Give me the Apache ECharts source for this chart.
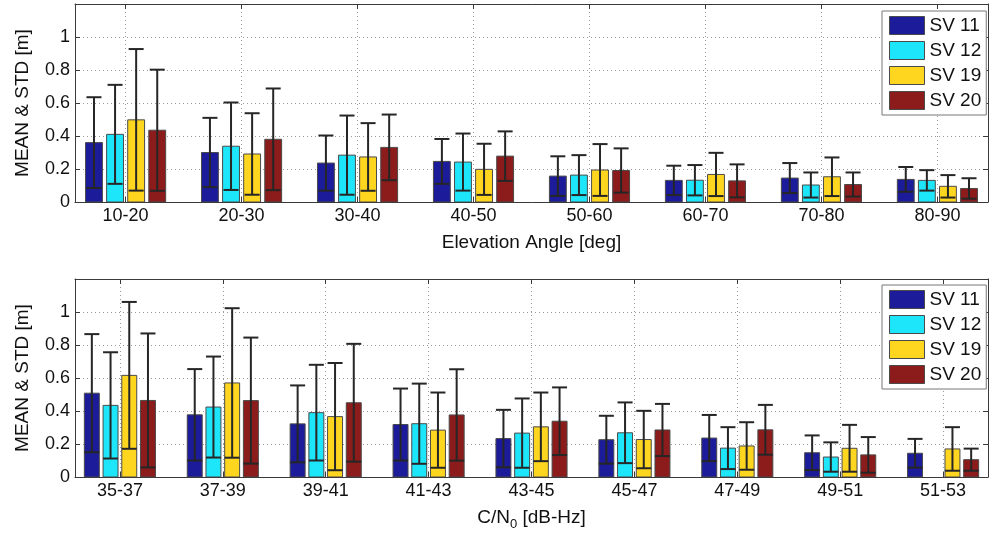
<!DOCTYPE html>
<html><head><meta charset="utf-8">
<script src="https://cdn.jsdelivr.net/npm/echarts@6/dist/echarts.min.js"></script>
<style>html,body{margin:0;padding:0;background:#fff}#c{width:993px;height:534px}</style>
</head><body><div id="c"></div>
<script>
// ---- data ----
const svNames = ['SV 11', 'SV 12', 'SV 19', 'SV 20'];
const svColors = ['#1c1c9a', '#1ee6fa', '#ffd61f', '#8c1b1b'];

const elevCats = ['10-20', '20-30', '30-40', '40-50', '50-60', '60-70', '70-80', '80-90'];
const elevMean11 = [0.360, 0.300, 0.236, 0.246, 0.157, 0.131, 0.145, 0.137];
const elevStd11  = [0.275, 0.210, 0.167, 0.136, 0.120, 0.089, 0.091, 0.075];
const elevMean12 = [0.410, 0.338, 0.284, 0.242, 0.163, 0.132, 0.103, 0.131];
const elevStd12  = [0.300, 0.265, 0.240, 0.173, 0.121, 0.092, 0.076, 0.062];
const elevMean19 = [0.498, 0.291, 0.273, 0.198, 0.194, 0.167, 0.153, 0.095];
const elevStd19  = [0.429, 0.247, 0.205, 0.155, 0.157, 0.131, 0.117, 0.068];
const elevMean20 = [0.435, 0.380, 0.331, 0.278, 0.191, 0.128, 0.106, 0.082];
const elevStd20  = [0.367, 0.308, 0.199, 0.150, 0.134, 0.100, 0.073, 0.062];

const cnoCats = ['35-37', '37-39', '39-41', '41-43', '43-45', '45-47', '47-49', '49-51', '51-53'];
const cnoMean11 = [0.508, 0.377, 0.322, 0.318, 0.233, 0.226, 0.236, 0.147, 0.144];
const cnoStd11  = [0.358, 0.277, 0.233, 0.218, 0.174, 0.145, 0.140, 0.105, 0.087];
const cnoMean12 = [0.434, 0.424, 0.390, 0.323, 0.266, 0.268, 0.175, 0.121, null];
const cnoStd12  = [0.322, 0.306, 0.290, 0.243, 0.210, 0.184, 0.127, 0.089, null];
const cnoMean19 = [0.616, 0.570, 0.366, 0.284, 0.304, 0.227, 0.188, 0.174, 0.170];
const cnoStd19  = [0.445, 0.453, 0.325, 0.228, 0.208, 0.174, 0.144, 0.142, 0.132];
const cnoMean20 = [0.464, 0.463, 0.450, 0.376, 0.338, 0.285, 0.286, 0.134, 0.105];
const cnoStd20  = [0.406, 0.382, 0.357, 0.277, 0.205, 0.158, 0.151, 0.108, 0.067];

// ---- chart ----
const FONT = 'Liberation Sans, Arial, sans-serif';
const GROUP = 4 / 5.5;           // MATLAB grouped-bar width
const STEP = GROUP / 4;
const BW = STEP * 0.8;
const CAP = 15;                  // px
const offsets = [0, 1, 2, 3].map(i => (i - 1.5) * STEP);

function render(offset, color) {
  return function (params, api) {
    const x = api.value(0), m = api.value(1), s = api.value(2);
    if (m == null || isNaN(m)) return;
    const xc = x + offset;
    const a = api.coord([xc - BW / 2, 0]);
    const b = api.coord([xc + BW / 2, m]);
    const t = api.coord([xc, m + s]);
    const lo = api.coord([xc, Math.max(m - s, 0)]);
    const cs = { stroke: '#262626', lineWidth: 2 };
    return {
      type: 'group', children: [
        { type: 'rect', shape: { x: a[0], y: b[1], width: b[0] - a[0], height: a[1] - b[1] },
          style: { fill: color, stroke: '#4a4a4a', lineWidth: 1 } },
        { type: 'line', shape: { x1: t[0], y1: t[1], x2: lo[0], y2: lo[1] }, style: cs },
        { type: 'line', shape: { x1: t[0] - CAP / 2, y1: t[1], x2: t[0] + CAP / 2, y2: t[1] }, style: cs },
        { type: 'line', shape: { x1: lo[0] - CAP / 2, y1: lo[1], x2: lo[0] + CAP / 2, y2: lo[1] }, style: cs }
      ]
    };
  };
}

function build(grid, means, stds) {
  return means.map((mArr, k) => {
    const data = [];
    mArr.forEach((m, i) => { if (m != null) data.push([i + 1, m, stds[k][i]]); });
    return {
      type: 'custom', name: svNames[k], xAxisIndex: grid * 2, yAxisIndex: grid * 2,
      renderItem: render(offsets[k], svColors[k]),
      itemStyle: { color: svColors[k], borderColor: '#4a4a4a', borderWidth: 1 },
      encode: { x: 0, y: 1 }, clip: true, data: data
    };
  });
}

const axisLineStyle = { color: '#3a3a3a', width: 1 };
const splitStyle = { show: true, lineStyle: { color: '#9a9a9a', type: [1, 3], width: 1 } };

function xAxes(gridIndex, cats, name, gap, nameRich) {
  const n = cats.length;
  const custom = cats.map((c, i) => i + 1);
  const base = {
    type: 'value', gridIndex: gridIndex, min: 1 - (GROUP / 2 + BW / 2), max: n + (GROUP / 2 + BW / 2),
    axisLine: { show: true, onZero: false, lineStyle: axisLineStyle },
    axisTick: { show: true, inside: true, length: 5, customValues: custom, lineStyle: axisLineStyle }
  };
  return [
    Object.assign({}, base, {
      position: 'bottom',
      name: name, nameLocation: 'middle', nameGap: gap,
      nameTextStyle: Object.assign({ fontFamily: FONT, fontSize: 19, color: '#111' }, nameRich || {}),
      axisLabel: { show: true, customValues: custom, fontFamily: FONT, fontSize: 18, color: '#111', margin: 5,
        formatter: v => cats[Math.round(v) - 1] || '' },
      splitLine: splitStyle
    }),
    Object.assign({}, base, { position: 'top', axisLabel: { show: false }, splitLine: { show: false } })
  ];
}

function yAxes(gridIndex) {
  const base = {
    type: 'value', gridIndex: gridIndex, min: 0, max: 1.2, interval: 0.2,
    axisLine: { show: true, lineStyle: axisLineStyle },
    axisTick: { show: true, inside: true, length: 5, lineStyle: axisLineStyle }
  };
  return [
    Object.assign({}, base, {
      position: 'left', name: 'MEAN & STD [m]', nameLocation: 'middle', nameGap: 43,
      nameTextStyle: { fontFamily: FONT, fontSize: 19, color: '#111' },
      axisLabel: { fontFamily: FONT, fontSize: 18, color: '#111', margin: 5,
        formatter: v => (v > 1.05 ? '' : String(+v.toFixed(1))) },
      splitLine: splitStyle
    }),
    Object.assign({}, base, { position: 'right', axisLabel: { show: false }, splitLine: { show: false } })
  ];
}

function legend(top) {
  return {
    orient: 'vertical', left: 882, top: top, itemWidth: 35, itemHeight: 18, itemGap: 6,
    padding: [5, 5, 5, 7], icon: 'rect', borderColor: '#777', borderWidth: 1, backgroundColor: '#fff',
    textStyle: { fontFamily: FONT, fontSize: 19, lineHeight: 18, color: '#111' },
    data: svNames.map((nm, k) => ({ name: nm, itemStyle: { color: svColors[k], borderColor: '#4a4a4a', borderWidth: 1 } }))
  };
}

const chart = echarts.init(document.getElementById('c'), null, { renderer: 'canvas' });
chart.setOption({
  backgroundColor: '#fff',
  animation: false,
  grid: [
    { left: 75, right: 5, top: 4, height: 198 },
    { left: 75, right: 5, top: 279, height: 198 }
  ],
  xAxis: [].concat(
    xAxes(0, elevCats, 'Elevation Angle [deg]', 31),
    xAxes(1, cnoCats, 'C/N{sub|0} [dB-Hz]', 28, { rich: { sub: { fontFamily: FONT, fontSize: 13, color: '#111', verticalAlign: 'bottom', lineHeight: 26 } } })
  ),
  yAxis: [].concat(yAxes(0), yAxes(1)),
  legend: [legend(11), legend(285)],
  series: [].concat(
    build(0, [elevMean11, elevMean12, elevMean19, elevMean20], [elevStd11, elevStd12, elevStd19, elevStd20]),
    build(1, [cnoMean11, cnoMean12, cnoMean19, cnoMean20], [cnoStd11, cnoStd12, cnoStd19, cnoStd20])
  )
});
</script></body></html>
